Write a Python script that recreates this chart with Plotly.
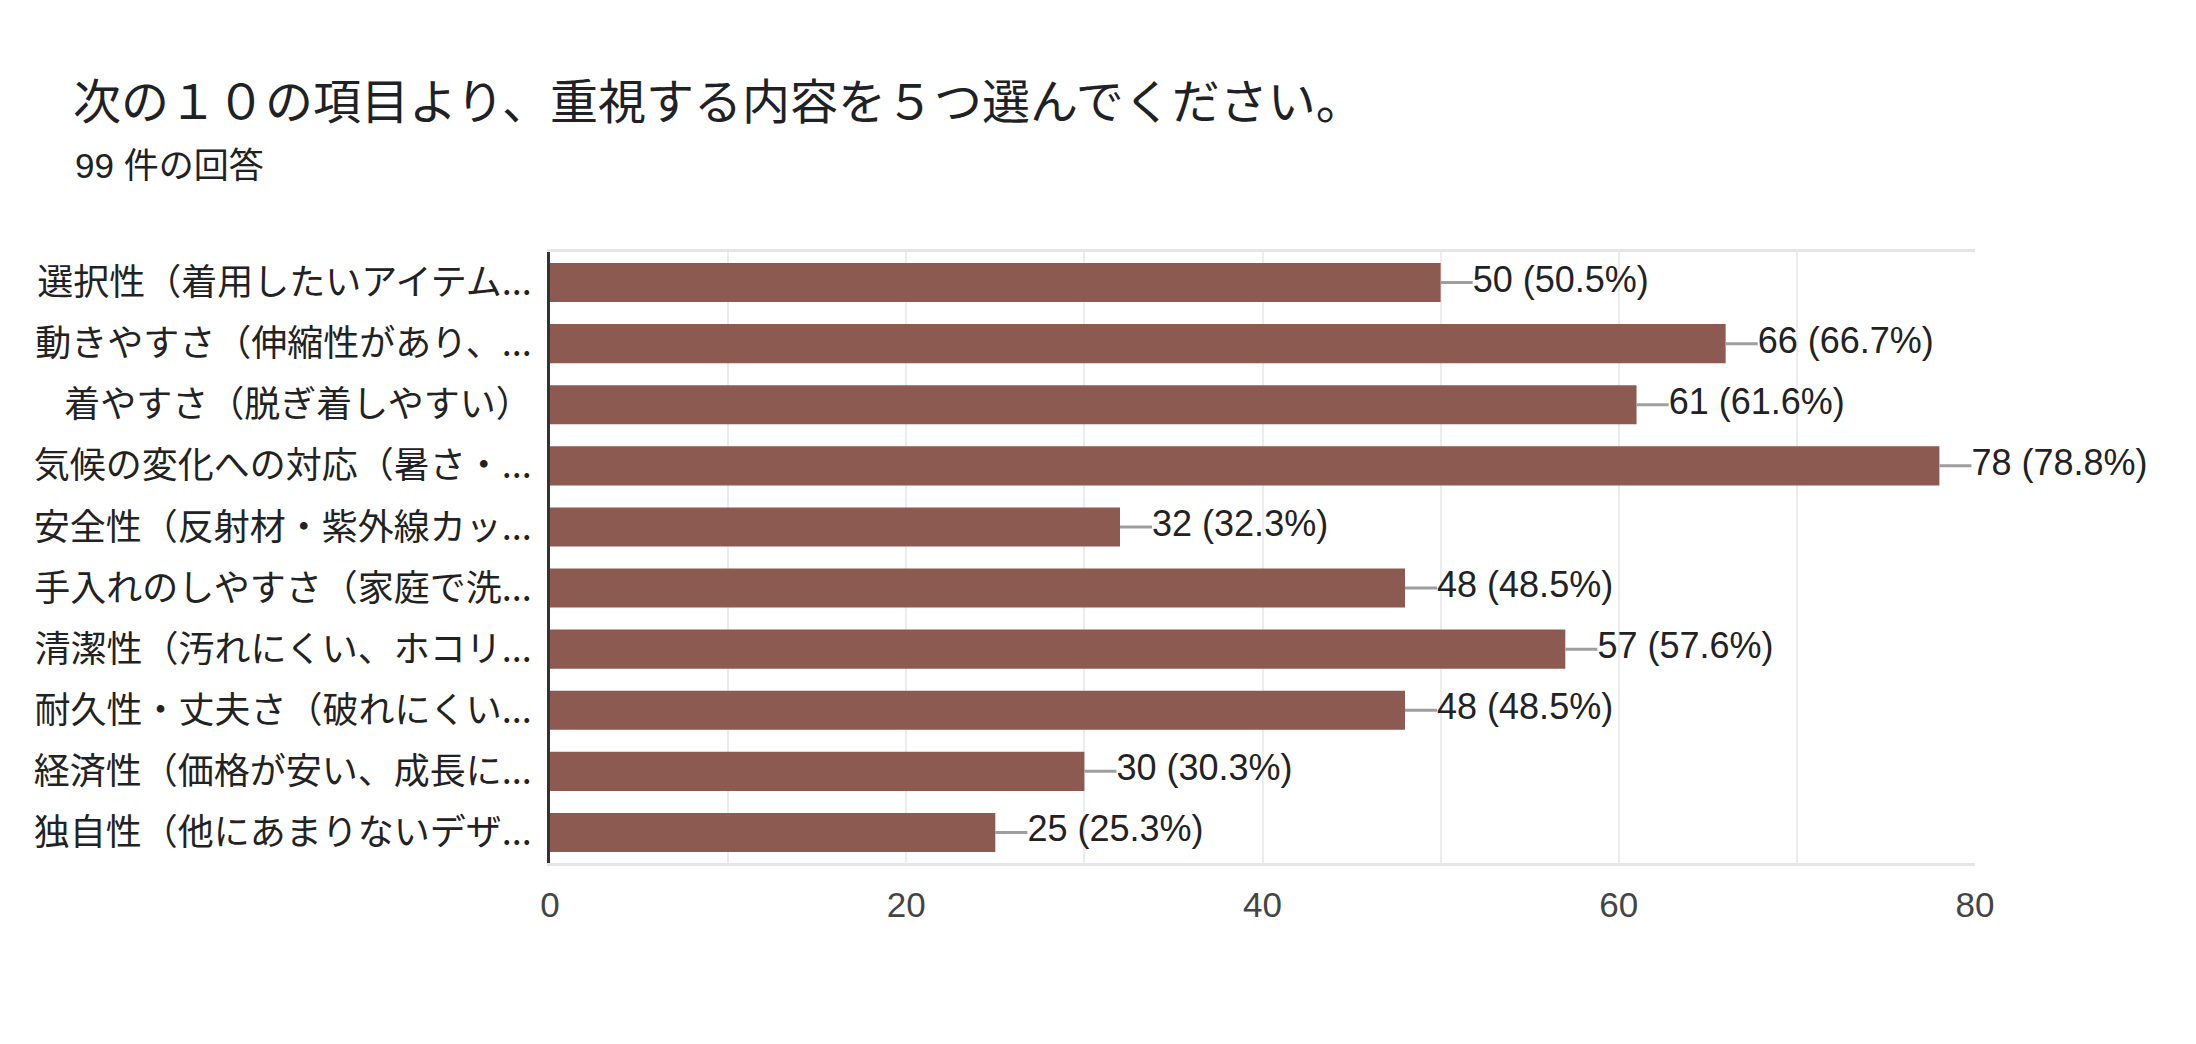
import plotly.graph_objects as go

# survey answers (99 responses)
categories = [
    "選択性（着用したいアイテム...",
    "動きやすさ（伸縮性があり、...",
    "着やすさ（脱ぎ着しやすい）",
    "気候の変化への対応（暑さ・...",
    "安全性（反射材・紫外線カッ...",
    "手入れのしやすさ（家庭で洗...",
    "清潔性（汚れにくい、ホコリ...",
    "耐久性・丈夫さ（破れにくい...",
    "経済性（価格が安い、成長に...",
    "独自性（他にあまりないデザ...",
]
counts = [50, 66, 61, 78, 32, 48, 57, 48, 30, 25]
percents = ["50.5%", "66.7%", "61.6%", "78.8%", "32.3%", "48.5%", "57.6%", "48.5%", "30.3%", "25.3%"]
x_ticks = [0, 20, 40, 60, 80]

labels = [f"{c} ({p})" for c, p in zip(counts, percents)]

latin = "Liberation Sans, Arial, Noto Sans CJK JP"
cjk = "Noto Sans CJK JP, Liberation Sans"
leader = 1.8  # length of the grey connector, in axis units

fig = go.Figure()

# bars with a short grey connector drawn as a one-sided error bar
fig.add_trace(go.Bar(
    x=counts,
    y=categories,
    orientation="h",
    marker=dict(color="#8c5a51", line=dict(width=0)),
    error_x=dict(type="data", symmetric=False,
                 array=[leader] * len(counts), arrayminus=[0] * len(counts),
                 width=0, thickness=3, color="#9e9e9e"),
    hoverinfo="x+y",
    showlegend=False,
))

# value labels next to the connector
fig.add_trace(go.Scatter(
    x=[c + leader for c in counts],
    y=categories,
    mode="text",
    text=labels,
    textposition="middle right",
    textfont=dict(family=latin, size=36, color="#222222"),
    hoverinfo="skip",
    showlegend=False,
    cliponaxis=False,
))

# page body has an 8px margin, so shift left/top margins back by 8
fig.update_layout(
    width=2196,
    height=1044,
    paper_bgcolor="white",
    plot_bgcolor="white",
    margin=dict(l=542, r=229, t=244, b=189, autoexpand=False),
    bargap=0.36,
    title=dict(
        text="次の１０の項目より、重視する内容を５つ選んでください。",
        font=dict(family=cjk, size=48, color="#202124"),
        xref="container", x=65 / 2196, xanchor="left",
        yref="container", y=1 - 94 / 1044, yanchor="middle",
    ),
    annotations=[dict(
        text="99 件の回答",
        xref="paper", yref="paper",
        x=(73 - 550) / 1425, y=(863 - 165) / 611,
        xanchor="left", yanchor="middle",
        showarrow=False,
        font=dict(family=latin, size=35, color="#202124"),
    )],
)

fig.update_xaxes(
    range=[0, 80],
    tickvals=x_ticks,
    ticks="",
    tickfont=dict(family=latin, size=35, color="#444444"),
    showgrid=True, gridcolor="#ececec", gridwidth=2,
    minor=dict(dtick=10, showgrid=True, gridcolor="#ececec", gridwidth=2),
    zeroline=False,
    showline=True, linecolor="#e6e6e6", linewidth=3, mirror=True,
    ticklabelstandoff=9,
)

fig.update_yaxes(
    autorange="reversed",
    ticks="",
    tickfont=dict(family=cjk, size=36, color="#222222"),
    showgrid=False,
    showline=True, linecolor="#333333", linewidth=3,
    ticklabelstandoff=8,
)

fig.write_html("out.html")
